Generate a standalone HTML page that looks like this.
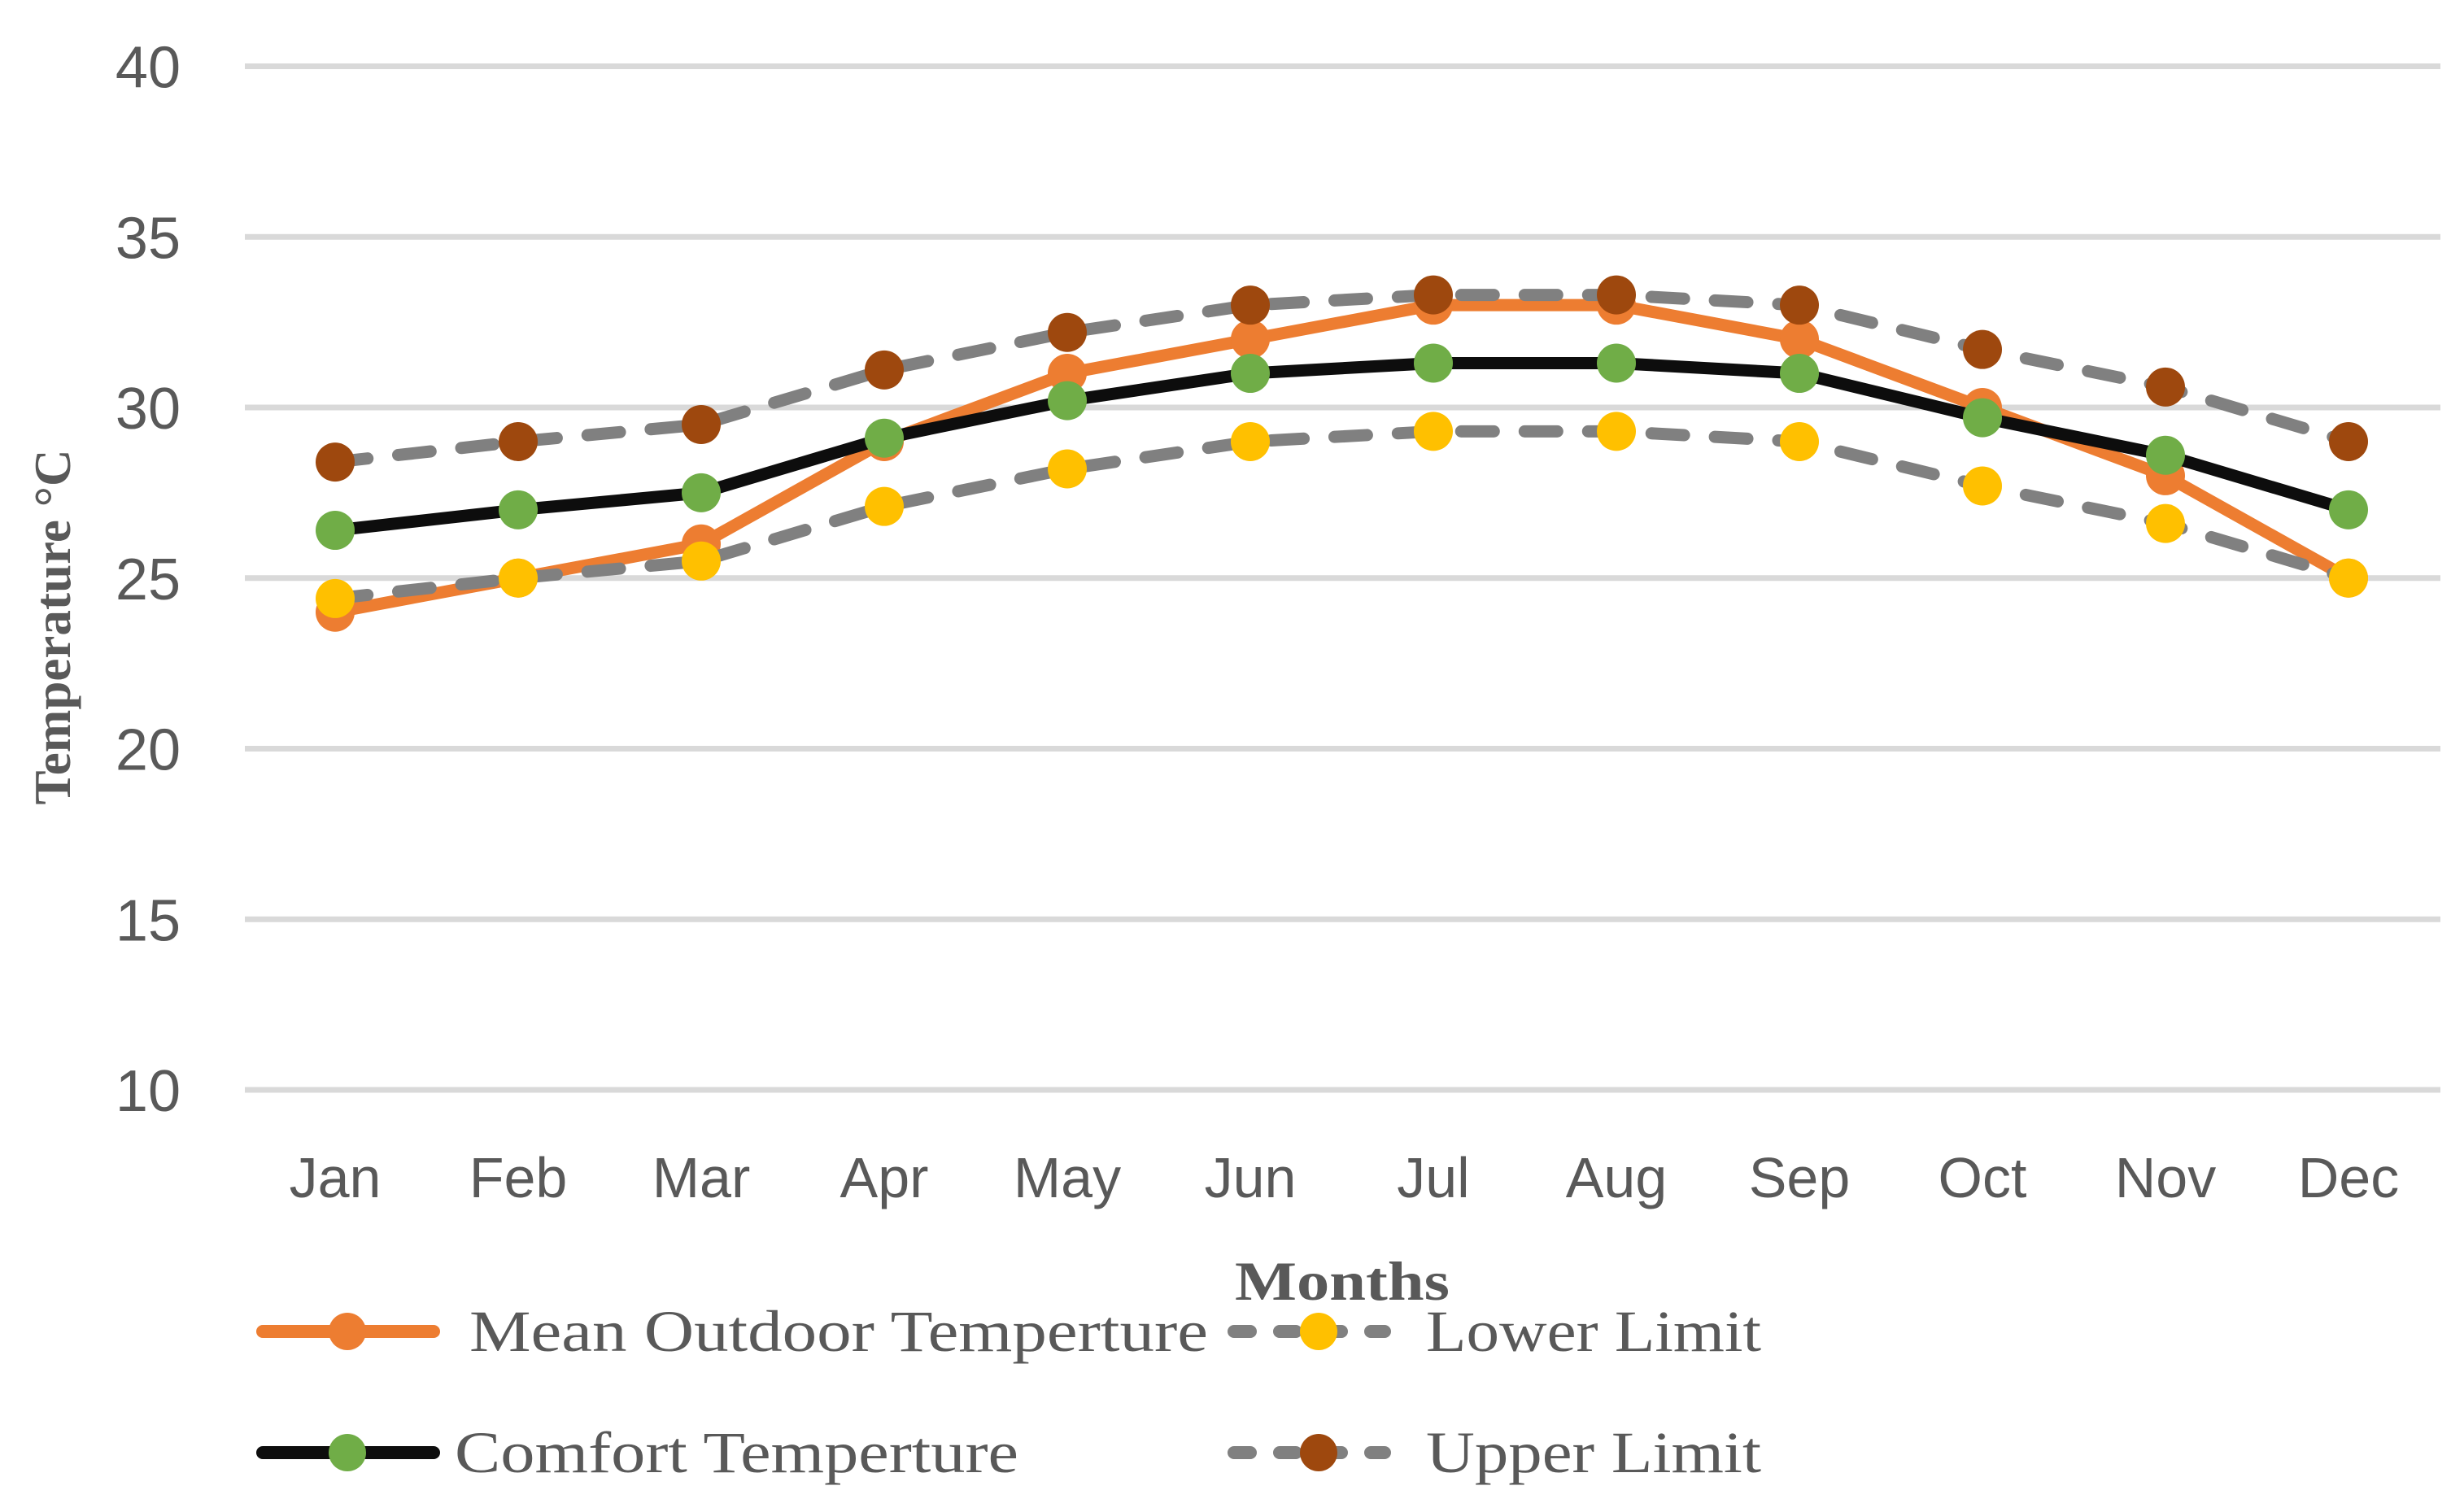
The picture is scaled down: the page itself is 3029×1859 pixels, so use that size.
<!DOCTYPE html>
<html><head><meta charset="utf-8"><style>
html,body{margin:0;padding:0;background:#fff;}
svg{display:block;}
</style></head><body>
<svg id="chart" width="3029" height="1859" viewBox="0 0 3029 1859" xmlns="http://www.w3.org/2000/svg">
<g id="grid"></g>
<g id="yticks"></g>
<g id="xticks"></g>
<g id="series"></g>
<text transform="translate(86,771) rotate(-90)" text-anchor="middle" font-family="Liberation Serif, serif" font-weight="bold" font-size="64" fill="#595959" textLength="437" lengthAdjust="spacingAndGlyphs">Temperature  °C</text>
<text x="1650" y="1598" text-anchor="middle" font-family="Liberation Serif, serif" font-weight="bold" font-size="68" fill="#595959" textLength="264" lengthAdjust="spacingAndGlyphs">Months</text>
<g font-family="Liberation Serif, serif" font-size="72" fill="#595959">
 <g>
  <line x1="323" y1="1637" x2="533" y2="1637" stroke="#ED7D31" stroke-width="16" stroke-linecap="round"/>
  <circle cx="427" cy="1637" r="23" fill="#ED7D31"/>
  <text x="577" y="1661" textLength="908" lengthAdjust="spacingAndGlyphs">Mean Outdoor Temperture</text>
 </g>
 <g>
  <line x1="1517" y1="1637" x2="1702" y2="1637" stroke="#808080" stroke-width="16" stroke-linecap="round" stroke-dasharray="20 36"/>
  <circle cx="1621" cy="1637" r="23" fill="#FFC000"/>
  <text x="1753" y="1661" textLength="412" lengthAdjust="spacingAndGlyphs">Lower Limit</text>
 </g>
 <g>
  <line x1="323" y1="1786" x2="533" y2="1786" stroke="#0D0D0D" stroke-width="16" stroke-linecap="round"/>
  <circle cx="427" cy="1786" r="23" fill="#70AD47"/>
  <text x="559" y="1810" textLength="693" lengthAdjust="spacingAndGlyphs">Comfort Temperture</text>
 </g>
 <g>
  <line x1="1517" y1="1786" x2="1702" y2="1786" stroke="#808080" stroke-width="16" stroke-linecap="round" stroke-dasharray="20 36"/>
  <circle cx="1621" cy="1786" r="23" fill="#9E480E"/>
  <text x="1753" y="1810" textLength="412" lengthAdjust="spacingAndGlyphs">Upper Limit</text>
 </g>
</g>
</svg>
<script>
const months = ["Jan","Feb","Mar","Apr","May","Jun","Jul","Aug","Sep","Oct","Nov","Dec"];
const meanOutdoor = [24,25,26,29,31,32,33,33,32,30,28,25];
const comfort = [26.4,27,27.5,29.1,30.2,31,31.3,31.3,31,29.7,28.6,27];
const lowerLimit = [24.4,25,25.5,27.1,28.2,29,29.3,29.3,29,27.7,26.6,25];
const upperLimit = [28.4,29,29.5,31.1,32.2,33,33.3,33.3,33,31.7,30.6,29];
const yTicks = [10,15,20,25,30,35,40];

const NS = "http://www.w3.org/2000/svg";
const yMin = 10, yMax = 40, yTop = 81.5, yBot = 1340;
const xFirst = 412, xLast = 2887;
function yScale(v){ return yBot - (v - yMin) / (yMax - yMin) * (yBot - yTop); }
function xScale(i){ return xFirst + i * (xLast - xFirst) / (months.length - 1); }
function mk(tag, attrs, parent){
  const e = document.createElementNS(NS, tag);
  for (const k in attrs) e.setAttribute(k, attrs[k]);
  parent.appendChild(e);
  return e;
}
const grid = document.getElementById('grid');
const yt = document.getElementById('yticks');
const xt = document.getElementById('xticks');
const ser = document.getElementById('series');

yTicks.forEach(v => {
  const l = mk('line', {x1:301, x2:3000, y1:yScale(v), y2:yScale(v), stroke:'#D9D9D9', 'stroke-width':7}, grid);
  
  
  const t = mk('text', {x:222, y:yScale(v)+26, 'text-anchor':'end', 'font-family':'Liberation Sans, sans-serif', 'font-size':72, fill:'#595959'}, yt);
  t.textContent = v;
  
  
});
months.forEach((m, i) => {
  const t = mk('text', {x:xScale(i), y:1472, 'text-anchor':'middle', 'font-family':'Liberation Sans, sans-serif', 'font-size':70, fill:'#595959'}, xt);
  t.textContent = m;
  
  
});

function drawSeries(name, vals, stroke, marker, dashed){
  const g = mk('g', {}, ser);
  
  
  const pts = vals.map((v, i) => xScale(i) + ',' + yScale(v)).join(' ');
  const attrs = {points:pts, fill:'none', stroke:stroke, 'stroke-width':15, 'stroke-linejoin':'round', 'stroke-linecap':'round'};
  if (dashed) attrs['stroke-dasharray'] = '40 38';
  const pl = mk('polyline', attrs, g);
  
  
  vals.forEach((v, i) => {
    const c = mk('circle', {cx:xScale(i), cy:yScale(v), r:24, fill:marker}, g);
    
    
  });
}
drawSeries('mean-outdoor', meanOutdoor, '#ED7D31', '#ED7D31', false);
drawSeries('comfort', comfort, '#0D0D0D', '#70AD47', false);
drawSeries('lower-limit', lowerLimit, '#808080', '#FFC000', true);
drawSeries('upper-limit', upperLimit, '#808080', '#9E480E', true);
</script>
</body></html>
